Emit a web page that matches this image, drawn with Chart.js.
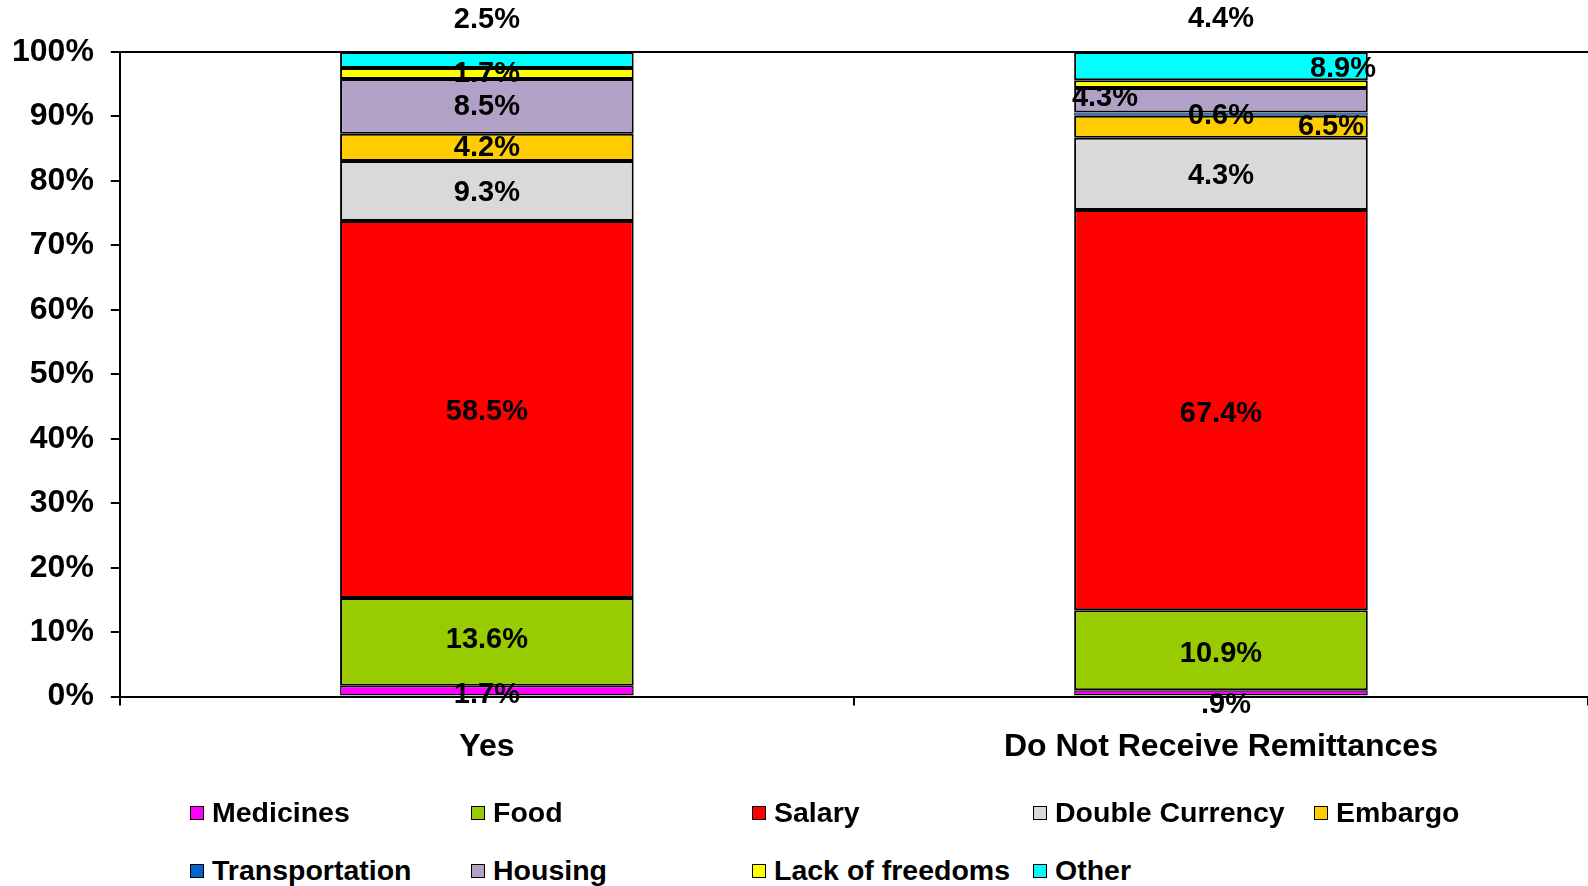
<!DOCTYPE html>
<html>
<head>
<meta charset="utf-8">
<script src="https://cdn.jsdelivr.net/npm/chart.js@4.4.1/dist/chart.umd.min.js"></script>
<style>
  body { margin: 0; background: #fff; font-family: "Liberation Sans", Arial, sans-serif; }
  #wrap { position: relative; width: 1588px; height: 886px; overflow: hidden; }
  #box { position: absolute; left: 0; top: 0; width: 1588px; height: 802px; }
  .leg { position: absolute; display: flex; align-items: center; font-weight: bold; font-size: 28.5px; color: #000; white-space: nowrap; }
  .leg span.sw { display: inline-block; width: 12px; height: 12px; border: 1.5px solid #000; margin-right: 8px; }
</style>
</head>
<body>
<div id="wrap">
  <div id="box"><canvas id="myChart"></canvas></div>
  <div id="legend"></div>
</div>
<script>
// categories
var categories = ["Yes", "Do Not Receive Remittances"];

// segment values (%)
var medicines      = [1.7, 1.0];
var food           = [13.6, 12.4];
var salary         = [58.5, 62.1];
var doubleCurrency = [9.3, 11.2];
var embargo        = [4.2, 3.4];
var transportation = [0, 0.5];
var housing        = [8.5, 3.8];
var lackOfFreedoms = [1.7, 1.2];
var other          = [2.5, 4.4];

// label texts as printed on the chart
var medicinesText      = ["1.7%", ".9%"];
var foodText           = ["13.6%", "10.9%"];
var salaryText         = ["58.5%", "67.4%"];
var doubleCurrencyText = ["9.3%", "4.3%"];
var embargoText        = ["4.2%", "6.5%"];
var transportationText = [null, "0.6%"];
var housingText        = ["8.5%", "4.3%"];
var lackOfFreedomsText = ["1.7%", "8.9%"];
var otherText          = ["2.5%", "4.4%"];

var yTicks = [0, 10, 20, 30, 40, 50, 60, 70, 80, 90, 100];

var FONT = "'Liberation Sans', Arial, sans-serif";

function series(label, data, texts, color, nudge, bw) {
  return {
    label: label,
    data: data,
    texts: texts,
    nudge: nudge,
    backgroundColor: color,
    borderColor: '#000',
    borderWidth: function (c) { return c.raw ? (bw || 2) : 0; },
    borderSkipped: false,
    barPercentage: 0.4,
    categoryPercentage: 1.0
  };
}

// label nudges (dx, dy) from the segment centre, per bar
var datasets = [
  series("Medicines", medicines, medicinesText, '#FF00FF', [[0, 4], [5, 12]], 1.5),
  series("Food", food, foodText, '#99CC00', [[0, -2], [0, 4]]),
  series("Salary", salary, salaryText, '#FF0000', [[0, 3], [0, 4]]),
  series("Double Currency", doubleCurrency, doubleCurrencyText, '#D9D9D9', [[0, 2], [0, 2]]),
  series("Embargo", embargo, embargoText, '#FFCC00', [[0, 1], [110, 0]]),
  series("Transportation", transportation, transportationText, '#0066CC', [[0, 0], [0, 2]], 1),
  series("Housing", housing, housingText, '#B2A1C7', [[0, 1], [-116, -2]]),
  series("Lack of freedoms", lackOfFreedoms, lackOfFreedomsText, '#FFFF00', [[0, 0], [122, -15]]),
  series("Other", other, otherText, '#00FFFF', [[0, -40], [0, -47]])
];

var labelPlugin = {
  id: 'segLabels',
  afterDatasetsDraw: function (chart) {
    var ctx = chart.ctx;
    ctx.save();
    ctx.font = "bold 29px " + FONT;
    ctx.fillStyle = '#000';
    ctx.textAlign = 'center';
    ctx.textBaseline = 'middle';
    chart.data.datasets.forEach(function (ds, i) {
      var meta = chart.getDatasetMeta(i);
      meta.data.forEach(function (bar, j) {
        var t = ds.texts[j];
        if (!t) return;
        var n = ds.nudge[j];
        var cy = (bar.y + bar.base) / 2;
        ctx.fillText(t, bar.x + n[0], cy + n[1]);
      });
    });
    ctx.restore();
  }
};

var config = {
  type: 'bar',
  data: { labels: categories, datasets: datasets },
  options: {
    responsive: true,
    maintainAspectRatio: false,
    animation: false,
    layout: { padding: { top: 52, left: -5, right: 0, bottom: 14 } },
    plugins: {
      legend: { display: false },
      tooltip: { enabled: false }
    },
    scales: {
      x: {
        stacked: true,
        border: { color: '#000', width: 2 },
        grid: { display: true, drawOnChartArea: false, tickLength: 9, tickColor: '#000', lineWidth: 2 },
        ticks: { color: '#000', padding: 22, font: { family: FONT, size: 32, weight: 'bold' } }
      },
      y: {
        stacked: true,
        min: 0,
        max: 100,
        afterBuildTicks: function (axis) {
          axis.ticks = yTicks.map(function (v) { return { value: v }; });
        },
        border: { color: '#000', width: 2 },
        grid: {
          color: function (c) { return c.tick && c.tick.value === 100 ? '#000' : 'rgba(0,0,0,0)'; },
          lineWidth: 2,
          tickLength: 9,
          tickColor: '#000'
        },
        ticks: {
          color: '#000',
          padding: 17,
          font: { family: FONT, size: 32, weight: 'bold' },
          callback: function (v) { return v + '%'; }
        }
      }
    }
  },
  plugins: [labelPlugin]
};

var chart = new Chart(document.getElementById('myChart'), config);

// legend in a 5-column grid
var legend = document.getElementById('legend');
datasets.forEach(function (ds, i) {
  var col = i % 5, row = Math.floor(i / 5);
  var d = document.createElement('div');
  d.className = 'leg';
  d.style.left = (190 + col * 281) + 'px';
  d.style.top = (796 + row * 58) + 'px';
  d.innerHTML = '<span class="sw" style="background:' + ds.backgroundColor + '"></span>' + ds.label;
  legend.appendChild(d);
});
</script>
</body>
</html>
